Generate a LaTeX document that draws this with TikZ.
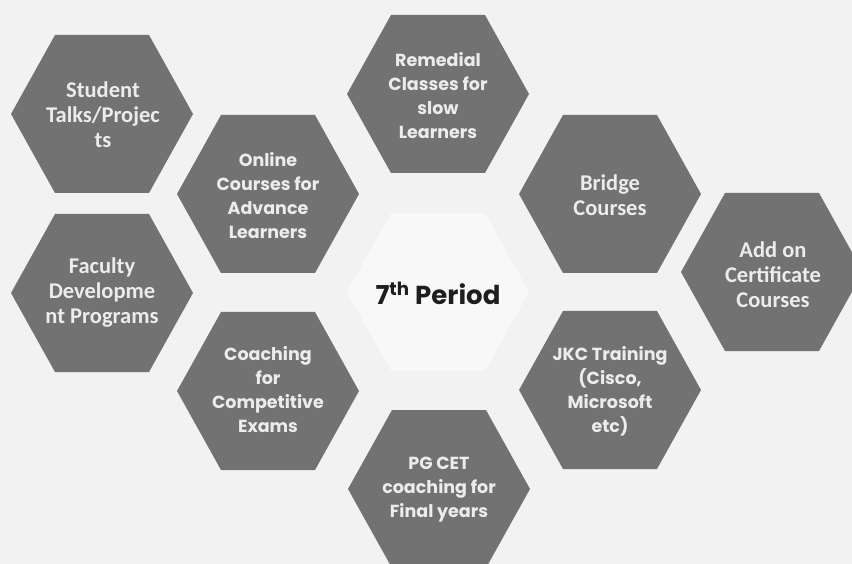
\documentclass[tikz,border=0pt]{standalone}
\usepackage{fontspec}
\setmainfont{Poppins}
\newfontfamily\calib{Carlito}
\definecolor{hexgray}{RGB}{114,114,114}
\definecolor{bgpaper}{RGB}{242,242,242}
\definecolor{centerpaper}{RGB}{248,248,248}
\definecolor{hextext}{RGB}{236,236,236}
\definecolor{centertext}{RGB}{30,30,30}
\newcommand\hexat[3]{\fill[#3] (#1,#2) ++(-91,0) -- ++(44,-79) -- ++(94,0) -- ++(44,79) -- ++(-44,79) -- ++(-94,0) -- cycle;}
\begin{document}
\begin{tikzpicture}[x=1pt,y=-1pt,
  hexfill/.style={fill=hexgray},
  centerfill/.style={fill=centerpaper},
  poplabel/.style={text=hextext,align=center,inner sep=0pt,font=\fontsize{17.5}{24}\selectfont\bfseries},
  callabel/.style={text=hextext,align=center,inner sep=0pt,font=\calib\fontsize{22.5}{25}\selectfont\bfseries},
  midlabel/.style={text=centertext,align=center,inner sep=0pt,font=\fontsize{26}{30}\selectfont\bfseries}]
\useasboundingbox (0,0) rectangle (852,564);
\clip (0,0) rectangle (852,564);
\fill[bgpaper] (0,0) rectangle (852,564);
% hexagons
\hexat{102}{114}{hexfill}
\hexat{102}{293}{hexfill}
\hexat{268}{194}{hexfill}
\hexat{268}{391}{hexfill}
\hexat{438}{94}{hexfill}
\hexat{438}{292}{centerfill}
\hexat{439}{489}{hexfill}
\hexat{610}{194}{hexfill}
\hexat{610}{390}{hexfill}
\hexat{772}{272}{hexfill}
% labels
\node[callabel] (student) at (103,115) {Student\\Talks/Projec\\ts};
\node[callabel] (faculty) at (102,293) {Faculty\\Developme\\nt Programs};
\node[poplabel] (online) at (268,196) {Online\\Courses for\\Advance\\Learners};
\node[poplabel] (coaching) at (268,390) {Coaching\\for\\Competitive\\Exams};
\node[poplabel] (remedial) at (438,96) {Remedial\\Classes for\\slow\\Learners};
\node[midlabel] (period) at (438,293) {7\textsuperscript{th} Period};
\node[poplabel] (pgcet) at (439,490) {PG CET\\coaching for\\Final years};
\node[callabel] (bridge) at (610,195) {Bridge\\Courses};
\node[poplabel] (jkc) at (610,391) {JKC Training\\(Cisco,\\Microsoft\\etc)};
\node[callabel] (addon) at (773,275) {Add on\\Certificate\\Courses};
\end{tikzpicture}
\end{document}
